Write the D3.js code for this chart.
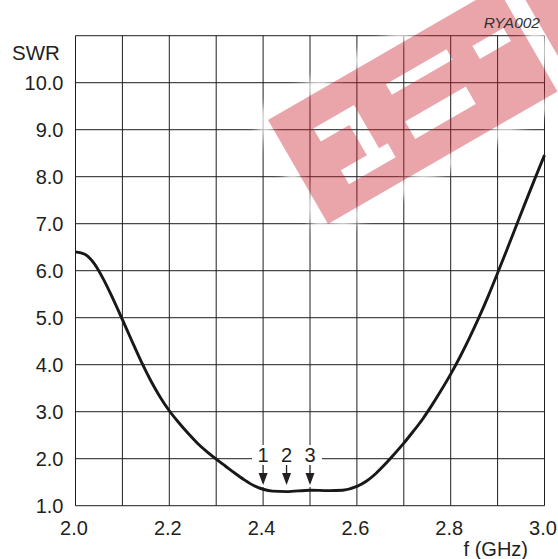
<!DOCTYPE html>
<html><head><meta charset="utf-8">
<script src="https://cdn.jsdelivr.net/npm/d3@7"></script>
<style>body{margin:0;background:#fff}svg{display:block;font-family:"Liberation Sans",Arial,sans-serif}</style>
</head><body><svg id="c" width="558" height="559"></svg>
<script>
// ---- data ----
const freq = [2.00,2.02,2.04,2.06,2.08,2.10,2.12,2.14,2.16,2.18,2.20,2.22,2.24,2.26,2.28,2.30,2.32,2.34,2.36,2.38,2.40,2.42,2.45,2.50,2.54,2.57,2.60,2.62,2.64,2.66,2.68,2.70,2.72,2.74,2.76,2.78,2.80,2.82,2.84,2.86,2.88,2.90,2.92,2.94,2.96,2.98,3.00];
const swr  = [6.40,6.35,6.15,5.81,5.40,4.96,4.51,4.07,3.67,3.32,3.02,2.77,2.54,2.33,2.15,1.99,1.84,1.69,1.55,1.43,1.35,1.31,1.30,1.33,1.32,1.33,1.41,1.52,1.68,1.88,2.10,2.33,2.58,2.84,3.14,3.46,3.80,4.17,4.57,5.00,5.46,5.95,6.45,6.96,7.47,7.97,8.46];
const xTickValues = [2.0,2.2,2.4,2.6,2.8,3.0];
const xGridValues = [2.0,2.1,2.2,2.3,2.4,2.5,2.6,2.7,2.8,2.9,3.0];
const yTickValues = [1,2,3,4,5,6,7,8,9,10];
const yGridValues = [1,2,3,4,5,6,7,8,9,10,11];
const markerFreq = [2.40,2.45,2.50];
const markerLabels = ["1","2","3"];

const svg = d3.select("#c");
const x = d3.scaleLinear().domain([2,3]).range([75.5,544.5]);
const y = d3.scaleLinear().domain([1,11]).range([505.7,35.7]);

// grid
const g = svg.append("g");
g.selectAll("line.h").data(yGridValues).join("line")
  .attr("x1",x(2)).attr("x2",x(3)).attr("y1",d=>y(d)).attr("y2",d=>y(d))
  .attr("stroke","#4a4a4a").attr("stroke-width",1.2);
g.selectAll("line.v").data(xGridValues).join("line")
  .attr("y1",y(1)).attr("y2",y(11)).attr("x1",d=>x(d)).attr("x2",d=>x(d))
  .attr("stroke","#1e1e1e").attr("stroke-width",1);

// tick labels
svg.append("g").selectAll("text").data(yTickValues).join("text")
  .attr("x",63.5).attr("y",d=>y(d)+7.3).attr("text-anchor","end")
  .attr("font-size",20).attr("fill","#231f20").text(d=>d3.format(".1f")(d));
svg.append("g").selectAll("text").data(xTickValues).join("text")
  .attr("x",d=>x(d)-1.5).attr("y",535).attr("text-anchor","middle")
  .attr("font-size",20).attr("fill","#231f20").text(d=>d3.format(".1f")(d));
svg.append("text").attr("x",12).attr("y",60).attr("font-size",20.5).attr("fill","#231f20").text("SWR");
svg.append("text").attr("x",528).attr("y",556).attr("text-anchor","end").attr("font-size",20).attr("fill","#231f20").text("f (GHz)");

// marker label background
svg.append("rect").attr("x",252).attr("y",445).attr("width",70).attr("height",42).attr("fill","#fff");

// curve
const pts = freq.map((f,i)=>[f,swr[i]]);
svg.append("path").datum(pts)
  .attr("d",d3.line().x(d=>x(d[0])).y(d=>y(d[1])).curve(d3.curveMonotoneX))
  .attr("fill","none").attr("stroke","#1a1718").attr("stroke-width",2.9)
  .attr("stroke-linejoin","round");

// markers
const mk = svg.append("g").selectAll("g").data(markerFreq).join("g");
mk.append("text").attr("x",d=>x(d)).attr("y",462).attr("text-anchor","middle")
  .attr("font-size",20).attr("fill","#231f20").text((d,i)=>markerLabels[i]);
mk.append("line").attr("x1",d=>x(d)).attr("x2",d=>x(d)).attr("y1",465).attr("y2",474)
  .attr("stroke","#231f20").attr("stroke-width",1.3);
mk.append("path").attr("d",d=>`M${x(d)-4.5},473L${x(d)+4.5},473L${x(d)},485Z`).attr("fill","#231f20");

// watermark
const defs = svg.append("defs");
defs.append("filter").attr("id","blur").attr("x","-20%").attr("y","-20%").attr("width","140%").attr("height","140%")
  .append("feGaussianBlur").attr("stdDeviation",4);
const wm = svg.append("g").attr("transform","translate(268,120) rotate(-30)");
const halo = "M-7,-7H272V127H-7Z M276,-7H420V127H276Z";
wm.append("path").attr("d",halo).attr("fill","none").attr("stroke","#fff").attr("stroke-width",14)
  .attr("opacity",0.75).attr("filter","url(#blur)");
const rect = (a,b,c,d)=>`M${a},${b}H${c}V${d}H${a}Z`;
const wmPath = [rect(0,0,265,120), rect(283,0,420,120),
  rect(35,30,82,45), rect(38,80,92,96), rect(68,45,82,80),
  rect(120,28,190,40), rect(118,70,188,90), rect(214,38,250,53)].join(" ");
wm.append("path").attr("d",wmPath).attr("fill-rule","evenodd").attr("fill","rgb(202,30,42)").attr("opacity",0.4);

svg.append("text").attr("x",540).attr("y",28.3).attr("text-anchor","end").attr("font-size",15.5)
  .attr("font-style","italic").attr("fill","#333").text("RYA002");
</script></body></html>
